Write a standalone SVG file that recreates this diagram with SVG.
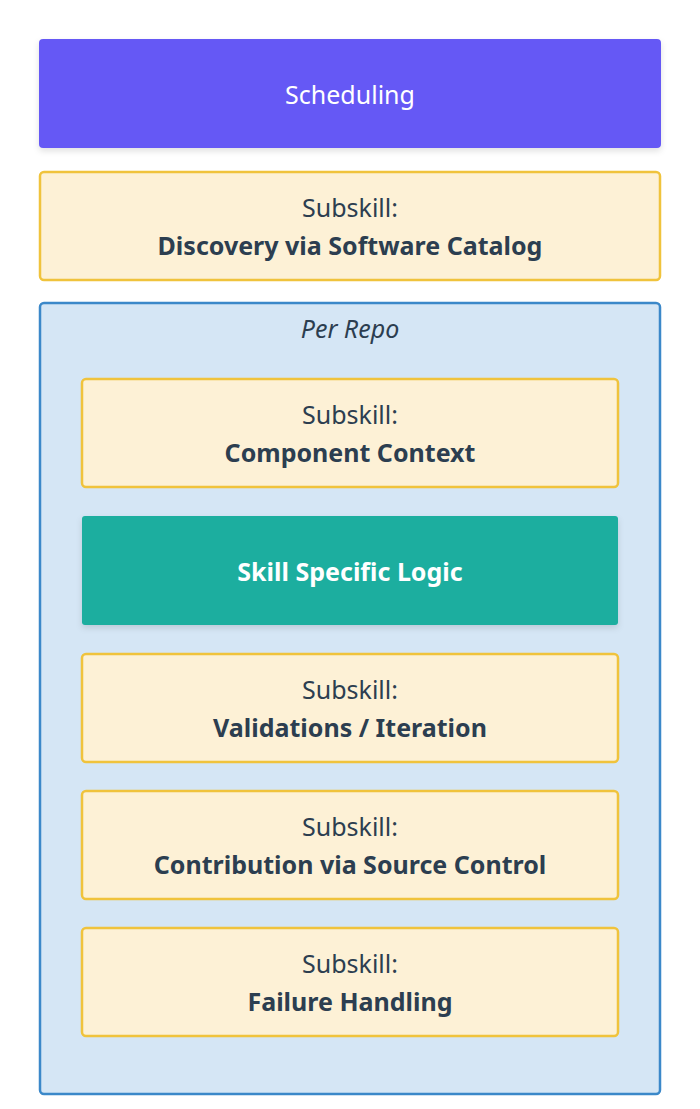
<svg xmlns="http://www.w3.org/2000/svg" width="700" height="1109" viewBox="0 0 700 1109">
<defs>
<filter id="sh" x="-5%" y="-20%" width="110%" height="150%">
<feDropShadow dx="0" dy="3" stdDeviation="3" flood-color="#000" flood-opacity="0.12"/>
</filter>
</defs>
<style>
.sub{fill:#fdf1d6;stroke:#f0c33c;stroke-width:2.5}
.t{font-family:"Noto Sans","Open Sans",sans-serif;font-size:25px;fill:#2c3e50;text-anchor:middle}
.b{font-weight:bold}
.w{fill:#ffffff}
</style>
<rect width="700" height="1109" fill="#ffffff"/>
<g id="scheduling">
<rect x="39" y="39" width="622" height="109" rx="4" fill="#6559f5" filter="url(#sh)"/>
<text class="t w" x="350" y="104">Scheduling</text>
</g>
<g id="discovery">
<rect class="sub" x="40" y="172" width="620" height="108" rx="4"/>
<text class="t" x="350" y="217">Subskill:</text>
<text class="t b" x="350" y="255">Discovery via Software Catalog</text>
</g>
<g id="per-repo">
<rect x="40" y="303" width="620" height="791" rx="4" fill="#d5e6f5" stroke="#3b88c9" stroke-width="2.5"/>
<text class="t" x="350" y="338" font-style="italic">Per Repo</text>
</g>
<g id="component-context">
<rect class="sub" x="82" y="379" width="536" height="108" rx="4"/>
<text class="t" x="350" y="424">Subskill:</text>
<text class="t b" x="350" y="462">Component Context</text>
</g>
<g id="skill-specific-logic">
<rect x="82" y="516" width="536" height="109" rx="3" fill="#1aae9f" filter="url(#sh)"/>
<text class="t b w" x="350" y="581">Skill Specific Logic</text>
</g>
<g id="validations">
<rect class="sub" x="82" y="654" width="536" height="108" rx="4"/>
<text class="t" x="350" y="699">Subskill:</text>
<text class="t b" x="350" y="737">Validations / Iteration</text>
</g>
<g id="contribution">
<rect class="sub" x="82" y="791" width="536" height="108" rx="4"/>
<text class="t" x="350" y="836">Subskill:</text>
<text class="t b" x="350" y="874">Contribution via Source Control</text>
</g>
<g id="failure-handling">
<rect class="sub" x="82" y="928" width="536" height="108" rx="4"/>
<text class="t" x="350" y="973">Subskill:</text>
<text class="t b" x="350" y="1011">Failure Handling</text>
</g>
<g id="connectors"></g>
</svg>
